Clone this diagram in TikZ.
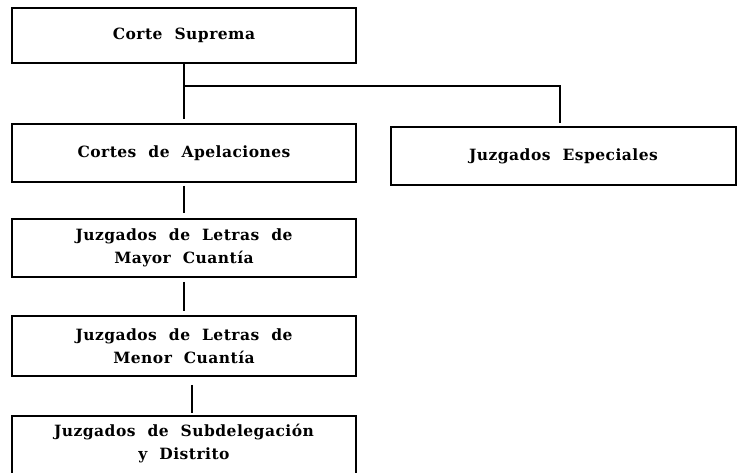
\documentclass[tikz,border=0pt]{standalone}
\usepackage{fontspec}
\setmainfont{DejaVu Serif}[LetterSpace=3]
\newcommand\orgfnt{\bfseries\fontsize{15.5}{23}\selectfont\spaceskip=12pt plus 0pt\relax}
\begin{document}
\begin{tikzpicture}[x=1pt,y=-1pt,
  box/.style={draw=black, line width=1.8pt, minimum width=344pt, inner sep=0pt, align=center, font=\orgfnt},
  boxtext/.style={draw=none, minimum width=344pt, inner sep=0pt, align=center, font=\orgfnt},
  link/.style={draw=black, line width=1.8pt},
  thinlink/.style={draw=black, line width=1.1pt}]
\useasboundingbox[fill=white] (0,0) rectangle (744,473);
\node[box, minimum height=55pt] (b1) at (184,35.5) {Corte Suprema};
\node[box, minimum height=58pt] (b2) at (184,153) {Cortes de Apelaciones};
\node[box, minimum width=345pt, minimum height=58pt] (je) at (563.5,156) {Juzgados Especiales};
\node[box, minimum height=58pt] (b3) at (184,248) {Juzgados de Letras de\\Mayor Cuantía};
\node[box, minimum height=60pt] (b4) at (184,346) {Juzgados de Letras de\\Menor Cuantía};
\node[boxtext, minimum height=56pt] (b5) at (184,444) {Juzgados de Subdelegación\\y Distrito};
\draw[link] ([yshift=-30pt]b5.south west) -- (b5.north west) -- (b5.north east) -- ([yshift=-30pt]b5.south east);
\coordinate (fork) at (184,86);
\draw[link, shorten >=4pt] (b1.south) -- (b2.north);
\draw[link, shorten >=3pt] (fork) -| ([xshift=-3.5pt]je.north);
\draw[link, shorten <=3pt, shorten >=5pt] (b2.south) -- (b3.north);
\draw[link, shorten <=4pt, shorten >=4pt] (b3.south) -- (b4.north);
\draw[thinlink, shorten <=8pt, shorten >=3pt] ([xshift=8pt]b4.south) -- ([xshift=8pt]b5.north);
\end{tikzpicture}
\end{document}
